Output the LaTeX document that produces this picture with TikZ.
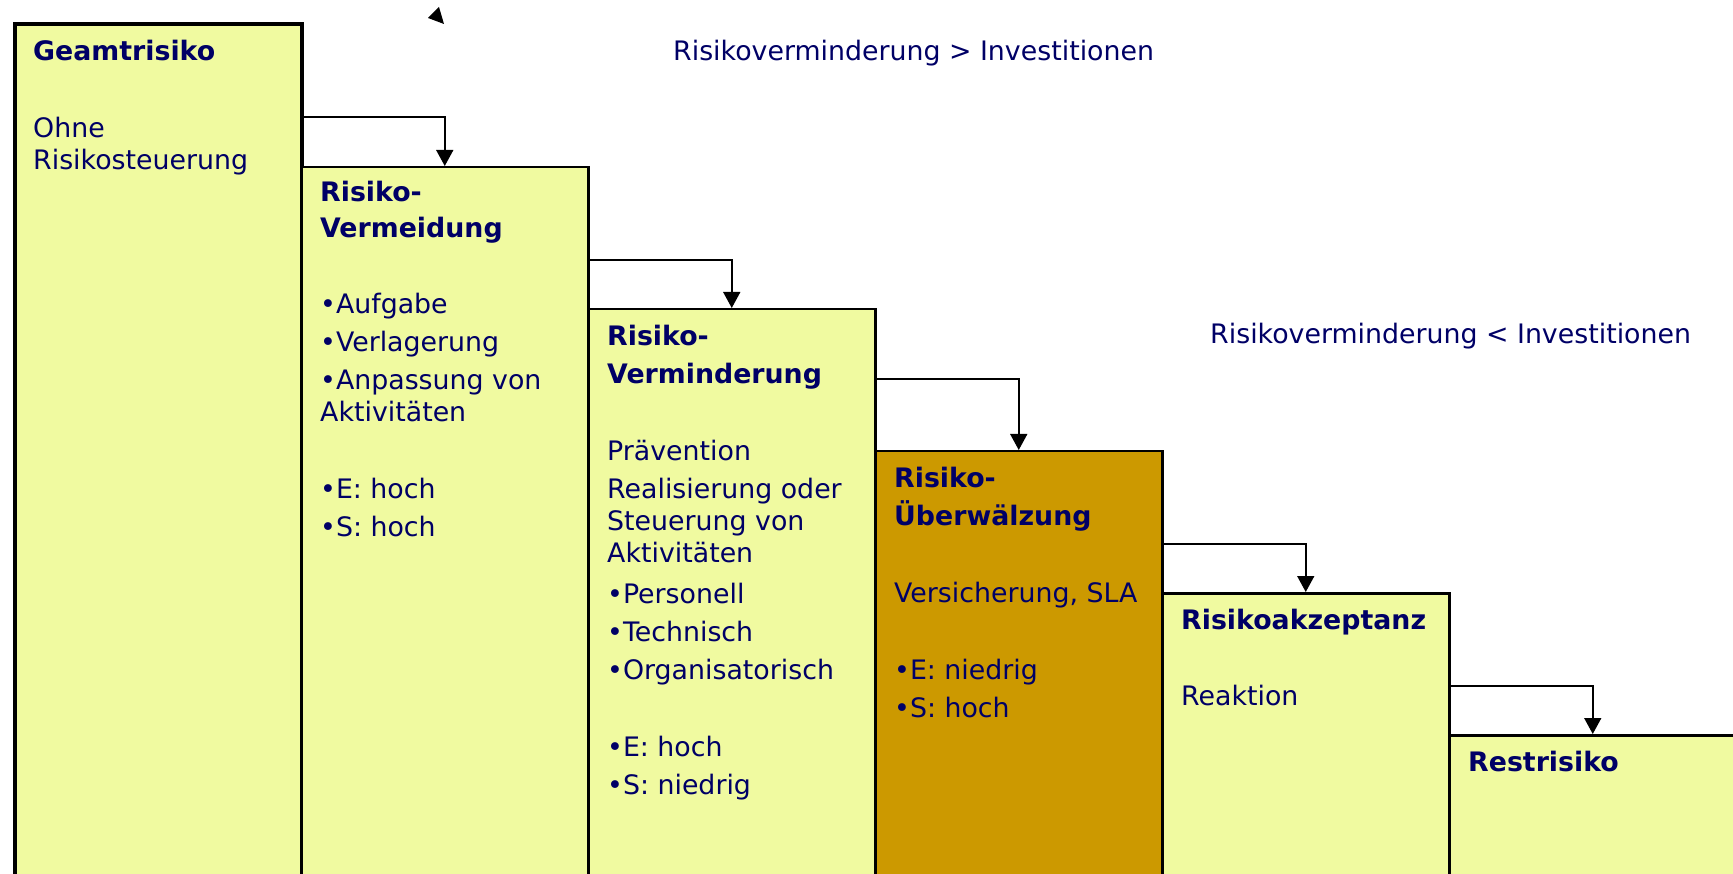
\documentclass[tikz,border=0pt]{standalone}
\usepackage{fontspec}
\setmainfont{DejaVu Sans}
\usetikzlibrary{arrows.meta,positioning,calc}

\definecolor{textblau}{HTML}{000066}
\definecolor{hellgelb}{HTML}{F0FAA0}
\definecolor{ocker}{HTML}{CC9900}

\begin{document}
\begin{tikzpicture}[x=1pt, y=-1pt, every node/.style={font=\fontsize{26.8}{32}\selectfont, text=textblau}]
			\tikzstyle{stufe} = [draw, line width=2.5pt, fill=hellgelb, anchor=north west, inner sep=0pt, minimum width=287pt, minimum height=900pt]
			\tikzstyle{stufentext} = [align=left, inner sep=0pt]
			\tikzstyle{pfeil} = [line width=1.6pt, -{Triangle[width=17pt,length=16pt]}]
			
			\useasboundingbox (0,0) rectangle (1733,874);
			\clip (0,0) rectangle (1733,874);
			
			% Treppe
			\node [stufe, line width=4pt] (b1) at (13,22) {};
			\node [stufe] (b2) at (300,166) {};
			\node [stufe] (b3) at (587,308) {};
			\node [stufe, fill=ocker] (b4) at (874,450) {};
			\node [stufe] (b5) at (1161,592) {};
			\node [stufe] (b6) at (1448,734) {};
			
			\node [stufentext, below right=18pt and 20pt of b1.north west] (t1) {\textbf{Geamtrisiko}\\[45pt]Ohne\\Risikosteuerung};
			\node [stufentext, below right=15pt and 20pt of b2.north west] (t2) {\textbf{Risiko-}\\[4pt]\textbf{Vermeidung}\\[44pt]•Aufgabe\\[6pt]•Verlagerung\\[6pt]•Anpassung von\\Aktivitäten\\[45pt]•E: hoch\\[6pt]•S: hoch};
			\node [stufentext, below right=17pt and 20pt of b3.north west] (t3) {\textbf{Risiko-}\\[6pt]\textbf{Verminderung}\\[45pt]Prävention\\[6pt]Realisierung oder\\Steuerung von\\Aktivitäten\\[9pt]•Personell\\[6pt]•Technisch\\[6pt]•Organisatorisch\\[45pt]•E: hoch\\[6pt]•S: niedrig};
			\node [stufentext, below right=17pt and 20pt of b4.north west] (t4) {\textbf{Risiko-}\\[6pt]\textbf{Überwälzung}\\[45pt]Versicherung, SLA\\[45pt]•E: niedrig\\[6pt]•S: hoch};
			\node [stufentext, below right=17pt and 20pt of b5.north west] (t5) {\textbf{Risikoakzeptanz}\\[44pt]Reaktion};
			\node [stufentext, below right=17pt and 20pt of b6.north west] (t6) {\textbf{Restrisiko}};
			
			\node [anchor=base west, inner sep=0pt] (r1) at (673,61) {Risikoverminderung > Investitionen};
			\node [anchor=base west, inner sep=0pt] (r2) at (1210,344) {Risikoverminderung < Investitionen};
			
			\draw [pfeil] ($(b2.north west)+(0,-49)$) -| (b2.north);
			\draw [pfeil] ($(b3.north west)+(0,-48)$) -| (b3.north);
			\draw [pfeil] ($(b4.north west)+(0,-71)$) -| (b4.north);
			\draw [pfeil] ($(b5.north west)+(0,-48)$) -| (b5.north);
			\draw [pfeil] ($(b6.north west)+(0,-48)$) -| (b6.north);
			
			\fill (439,7) -- (428,18) -- (444,24) -- cycle;
			
			\end{tikzpicture}
\end{document}
